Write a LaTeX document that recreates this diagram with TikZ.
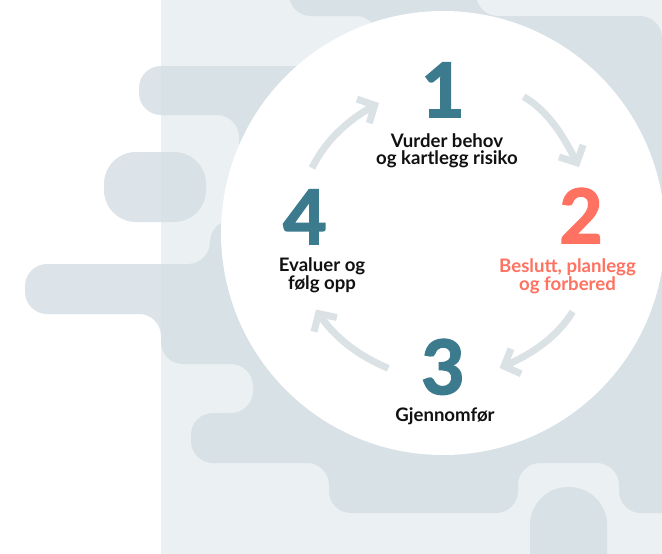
\documentclass[tikz,border=0pt]{standalone}
\usepackage{fontspec}
\setmainfont{Lato}
\newfontfamily\digitfont{Lato}[BoldFeatures={FakeBold=2.2}]
\usetikzlibrary{arrows.meta,bending}
\definecolor{lightbg}{RGB}{235,240,242}
\definecolor{blobc}{RGB}{210,220,226}
\definecolor{arrowc}{RGB}{219,226,230}
\definecolor{tealc}{RGB}{60,122,141}
\definecolor{coralc}{RGB}{255,113,96}
\definecolor{textc}{RGB}{17,17,17}
\tikzset{
  blob/.style={fill=blobc, fill opacity=0.75},
  cyclearrow/.style={draw=arrowc, line width=7pt, line cap=butt,
    -{Straight Barb[sharp, length=13pt, width=27pt]}},
  digit/.style={anchor=base, text=tealc, font=\digitfont\fontsize{75}{75}\selectfont\bfseries, inner sep=0pt},
  label/.style={anchor=base, align=center, text=textc, font=\fontsize{18.6}{17}\selectfont\bfseries, inner sep=0pt}
}
\begin{document}
\begin{tikzpicture}[x=1pt,y=-1pt]
\useasboundingbox (0,0) rectangle (662,554);
\fill[white] (0,0) rectangle (662,554);
\fill[lightbg] (161,0) rectangle (662,554);
% large background blob
\fill[blob, rounded corners=22pt]
  (289,-40) -- (476,-40) -- (476,16) -- (662,16) -- (662,300) -- (720,300)
  -- (720,513) -- (619,513) -- (619,463) -- (518,463) -- (518,513)
  -- (329,513) -- (329,463) -- (191,463) -- (191,413) -- (253,413)
  -- (253,364) -- (161,364) -- (161,314) -- (25,314) -- (25,264)
  -- (210,264) -- (210,220) -- (300,220) -- (300,170) -- (239,170)
  -- (239,115) -- (139,115) -- (139,66) -- (378,66) -- (378,16)
  -- (289,16) -- cycle;
% small blobs
\fill[blob, rounded corners=32pt] (104,152) -- (206,152) -- (206,222) -- (104,222) -- cycle;
\fill[blob, rounded corners=38pt] (530,487) -- (607,487) -- (607,600) -- (530,600) -- cycle;
% central disc
\fill[white] (443,233) circle[radius=222];
% arrow end points
\coordinate (s41) at (312,168);   \coordinate (e41) at (379,103);
\coordinate (s12) at (523.6,96.7); \coordinate (e12) at (579,167);
\coordinate (s23) at (572.7,311.7); \coordinate (e23) at (499.5,368);
\coordinate (s34) at (388.3,368.3); \coordinate (e34) at (316,309.5);
% steps
\node[digit] (d1) at (443,117) {1};
\node[label] (l1) at (447,164) {Vurder behov\\og kartlegg risiko};
\node[digit, text=coralc] (d2) at (581,243) {2};
\node[label, text=coralc] (l2) at (567.5,290.5) {Beslutt, planlegg\\og forbered};
\node[digit] (d3) at (443,394) {3};
\node[label] (l3) at (445,421) {Gjennomfør};
\node[digit] (d4) at (305,244) {4};
\node[label] (l4) at (322,289.5) {Evaluer og\\følg opp};
% cycle arrows
\draw[cyclearrow] (s41) .. controls (326,139.2) and (350.5,117.5) .. (e41);
\draw[cyclearrow] (s12) .. controls (550,112) and (565.5,139.6) .. (e12);
\draw[cyclearrow] (s23) .. controls (556.2,338.5) and (529.1,356.1) .. (e23);
\draw[cyclearrow] (s34) .. controls (359.5,356.3) and (333.3,337.6) .. (e34);
\end{tikzpicture}
\end{document}
